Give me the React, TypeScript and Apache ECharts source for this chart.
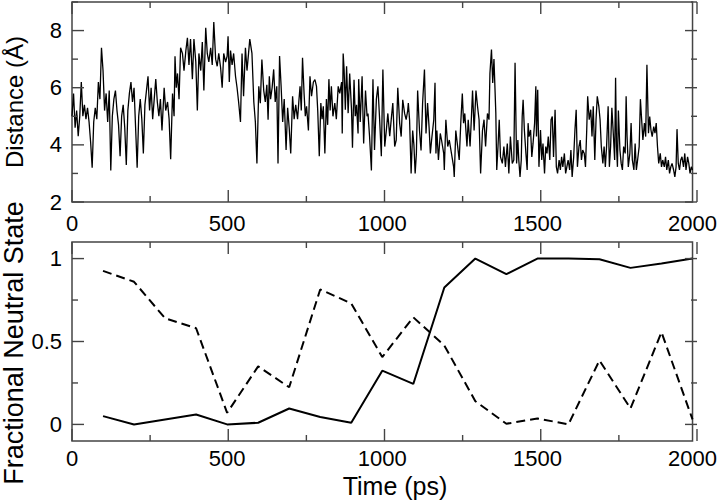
import React, { useEffect, useRef } from 'react';
import * as echarts from 'echarts';

// Distance trace (time in ps, distance in Å)
const distanceTrace: [number, number][] = [
  [0,5.0],[5,5.8],[10,4.6],[15,5.2],[20,4.3],[25,5.0],[30,6.2],[35,5.0],[40,5.4],[45,4.9],[50,5.3],[55,4.8],[60,4.1],[65,3.2],[70,4.8],[75,5.3],[80,4.9],[85,6.2],[90,5.6],[95,7.4],[100,6.6],[105,5.2],[110,5.8],[115,4.8],[120,5.9],[125,3.1],[130,5.0],[135,5.6],[140,5.9],[145,5.2],[150,4.7],[155,3.6],[160,5.0],[165,5.4],[170,4.6],[175,3.3],[180,5.2],[185,5.8],[190,6.2],[195,5.5],[200,6.0],[205,4.6],[210,3.2],[215,5.0],[220,5.6],[225,4.9],[230,3.7],[235,5.4],[240,5.9],[245,6.4],[250,5.2],[255,6.0],[260,4.9],[265,5.6],[270,6.3],[275,5.5],[280,5.0],[285,5.6],
  [290,4.5],[297,6.0],[302,5.2],[308,5.5],[313,4.9],[318,3.5],[324,5.8],[329,5.0],[332,7.1],[336,6.0],[340,6.5],[345,5.6],[350,7.4],[356,7.2],[361,6.6],[367,7.3],[372,7.75],[377,6.8],[382,7.7],[388,6.3],[393,7.7],[399,6.9],[404,5.2],[409,7.2],[415,6.6],[420,7.6],[425,5.9],[431,8.1],[436,7.2],[441,6.9],[447,7.4],[452,6.8],[457,8.3],[463,7.0],[468,6.75],[473,7.2],[479,6.7],[484,6.0],[489,7.2],[495,6.9],[500,7.1],[503,7.8],[507,6.2],[511,7.3],[516,6.8],[521,7.2],[527,6.4],[532,6.0],[537,5.5],[543,4.8],[548,7.2],[553,5.7],[559,7.4],[564,6.6],[569,7.2],
  [573,7.7],[580,7.2],[586,5.5],[591,4.8],[596,3.35],[602,6.05],[607,5.46],[612,6.99],[618,5.9],[623,5.5],[628,6.1],[632,4.88],[636,6.4],[640,5.6],[645,6.0],[650,6.64],[655,5.5],[660,6.05],[664,3.35],[669,7.11],[674,6.05],[679,4.8],[684,5.6],[690,3.82],[695,5.3],[700,4.6],[705,3.7],[711,5.7],[716,4.9],[721,5.4],[727,4.9],[731,5.5],[735,6.05],[739,5.2],[743,7.05],[748,5.8],[752,5.0],[756,5.35],[762,4.5],[767,6.4],[772,5.7],[778,6.2],[783,6.28],[788,6.05],[792,5.2],[797,3.6],[802,5.46],[806,4.9],[810,5.35],[815,3.7],[820,5.6],[824,4.7],[828,6.3],[832,5.2],[836,6.05],[841,5.0],[847,5.46],[852,4.9],[858,6.05],
  [863,5.8],[869,6.2],[871,4.4],[874,7.2],[877,6.64],[881,5.23],[885,6.75],[890,5.11],[895,6.5],[901,5.2],[904,3.9],[909,6.28],[913,5.0],[917,5.4],[922,4.4],[924,6.3],[929,4.8],[935,6.4],[940,4.05],[946,5.9],[951,5.0],[954,5.1],[959,4.3],[965,3.1],[970,6.3],[975,3.82],[981,5.6],[986,6.05],[991,5.0],[997,3.6],[1002,6.64],[1008,3.94],[1013,4.5],[1018,5.1],[1024,4.3],[1029,4.9],[1034,5.46],[1040,3.94],[1045,4.17],[1050,6.0],[1056,4.76],[1061,4.29],[1066,5.58],[1072,5.1],[1077,4.88],[1082,5.2],[1084,5.46],[1088,4.88],[1093,3.0],[1098,4.5],[1102,4.0],[1106,3.0],[1110,3.7],[1114,5.9],[1120,4.5],[1125,3.8],[1130,5.46],[1136,6.64],[1141,4.4],[1146,5.46],
  [1151,4.6],[1155,3.7],[1159,4.17],[1166,4.88],[1170,6.17],[1173,3.7],[1176,4.5],[1181,3.47],[1187,4.4],[1191,4.17],[1198,3.7],[1200,3.12],[1205,4.88],[1211,3.94],[1216,4.17],[1223,3.7],[1230,3.23],[1232,2.88],[1237,4.5],[1243,3.94],[1248,3.47],[1253,4.76],[1258,5.8],[1262,4.76],[1266,5.1],[1273,3.94],[1277,4.88],[1283,3.94],[1287,4.88],[1291,5.9],[1296,4.5],[1302,5.9],[1307,5.35],[1312,4.88],[1317,3.0],[1323,4.5],[1328,4.88],[1333,3.94],[1339,5.1],[1344,4.88],[1347,6.5],[1352,7.34],[1356,6.17],[1360,7.0],[1366,5.11],[1369,3.12],[1373,3.94],[1377,4.88],[1381,3.58],[1387,3.35],[1392,3.94],[1397,3.23],[1403,4.05],[1408,3.0],[1413,4.29],[1419,3.35],[1424,3.47],[1428,6.87],[1433,3.35],[1437,4.17],
  [1440,3.47],[1444,2.88],[1448,3.47],[1451,4.99],[1454,5.58],[1458,4.52],[1463,3.7],[1467,3.12],[1470,4.76],[1473,4.29],[1478,4.52],[1482,3.58],[1486,4.05],[1491,4.76],[1495,6.05],[1497,4.29],[1501,5.93],[1505,3.23],[1510,4.52],[1514,3.47],[1518,4.05],[1523,3.0],[1527,3.94],[1531,3.7],[1535,4.29],[1540,3.47],[1544,4.88],[1548,4.99],[1552,3.58],[1557,5.23],[1561,3.23],[1565,3.0],[1570,3.47],[1574,3.12],[1578,3.58],[1582,3.23],[1587,3.7],[1591,3.0],[1595,3.23],[1599,3.47],[1604,3.12],[1608,3.82],[1612,2.88],[1617,3.58],[1621,4.52],[1625,5.23],[1629,3.23],[1634,3.94],[1638,4.17],[1642,3.47],[1646,3.82],[1651,3.7],[1655,3.23],[1659,4.52],[1662,5.7],[1667,4.88],[1672,5.23],[1676,4.29],[1680,5.35],[1685,3.47],[1689,4.88],[1693,5.7],[1698,5.35],[1702,4.88],[1706,3.94],[1711,3.35],[1715,3.94],[1719,3.23],[1723,3.94],[1728,5.35],
  [1732,3.23],[1736,3.94],[1740,5.3],[1744,4.52],[1749,3.47],[1752,6.35],[1755,3.94],[1758,3.23],[1761,5.2],[1766,3.82],[1770,3.35],[1774,3.12],[1778,3.94],[1783,3.7],[1786,5.7],[1789,4.29],[1793,3.23],[1798,3.7],[1802,4.76],[1806,3.47],[1811,3.12],[1815,4.05],[1819,3.12],[1823,3.47],[1828,3.94],[1832,5.6],[1836,4.88],[1840,4.17],[1845,4.76],[1849,4.29],[1853,6.8],[1858,4.41],[1862,4.99],[1866,4.52],[1870,4.29],[1875,4.64],[1879,4.41],[1883,4.76],[1887,3.94],[1891,3.35],[1896,3.7],[1900,3.23],[1904,3.47],[1909,3.23],[1913,3.58],[1917,3.12],[1922,3.47],[1926,3.0],[1930,3.23],[1934,3.35],[1939,3.12],[1943,2.88],[1947,3.23],[1950,4.55],[1954,3.35],[1958,3.12],[1962,3.47],[1966,3.58],[1971,3.23],[1975,3.7],[1979,3.12],[1984,3.58],[1988,3.35],[1992,3.0],[1996,3.23],[2000,3.12]
];

// Fractional neutral state
const fracTime = [100,200,300,400,500,600,700,800,900,1000,1100,1200,1300,1400,1500,1600,1700,1800,1900,2000];
const solidFraction = [0.05,0.0,0.03,0.06,0.0,0.01,0.096,0.045,0.01,0.324,0.244,0.826,1.0,0.906,1.0,1.0,0.996,0.944,0.97,1.0];
const dashedFraction = [0.926,0.86,0.64,0.58,0.07,0.35,0.224,0.814,0.73,0.406,0.646,0.476,0.14,0.004,0.036,0.0,0.386,0.096,0.556,0.03];

// Ticks
const xTicks = [0, 500, 1000, 1500, 2000];
const xMinorTicks = [250, 750, 1250, 1750];
const distTicks = [2, 4, 6, 8];
const distMinorTicks = [3, 5, 7, 9];
const fracTicks = [0, 0.5, 1];
const fracMinorTicks = [0.25, 0.75];

const FONT = "'Liberation Sans', Arial, Helvetica, sans-serif";
const FRAME = '#444';
const MAJOR_LEN = 12;
const MINOR_LEN = 6;
const TICK_W = 1.4;
const X_MIN = 0;
const X_MAX = 2000;

const gridBoxes = [
  { left: 72, top: 2, width: 625, height: 200 },
  { left: 72, top: 242, width: 625, height: 199 },
];
const panels = [
  { yMin: 2, yMax: 9, yTicks: distTicks, yMinor: distMinorTicks },
  { yMin: -0.1, yMax: 1.1, yTicks: fracTicks, yMinor: fracMinorTicks },
];

function makeAxis(gridIndex: number, position: string, min: number, max: number, labels: number[], margin: number) {
  return {
    type: 'value',
    gridIndex,
    position,
    min,
    max,
    axisLine: { show: false, onZero: false },
    splitLine: { show: false },
    axisTick: { show: false },
    axisLabel: {
      show: true,
      customValues: labels,
      margin,
      fontSize: 22,
      fontFamily: FONT,
      color: '#000',
      formatter: (v: number) => String(v),
    },
  };
}

// Inward frame ticks on all four sides (axis decoration, as thin rects)
function frameTicks() {
  const out: any[] = [];
  const h = TICK_W / 2;
  const rect = (x: number, y: number, width: number, height: number) => ({
    type: 'rect',
    silent: true,
    z: 10,
    shape: { x, y, width, height },
    style: { fill: FRAME },
  });
  panels.forEach((p, g) => {
    const b = gridBoxes[g];
    const xPx = (v: number) => b.left + ((v - X_MIN) / (X_MAX - X_MIN)) * b.width;
    const yPx = (v: number) => b.top + ((p.yMax - v) / (p.yMax - p.yMin)) * b.height;
    const top = b.top;
    const bottom = b.top + b.height;
    const left = b.left;
    const right = b.left + b.width;
    const addX = (vals: number[], len: number) =>
      vals.forEach((v) => {
        const x = xPx(v);
        out.push(rect(x - h, bottom - len, TICK_W, len));
        out.push(rect(x - h, top, TICK_W, len));
      });
    const addY = (vals: number[], len: number) =>
      vals.forEach((v) => {
        const y = yPx(v);
        out.push(rect(left, y - h, len, TICK_W));
        out.push(rect(right - len, y - h, len, TICK_W));
      });
    addX(xTicks, MAJOR_LEN);
    addX(xMinorTicks, MINOR_LEN);
    addY(p.yTicks, MAJOR_LEN);
    addY(p.yMinor, MINOR_LEN);
  });
  return out;
}

export default function App() {
  const ref = useRef<HTMLDivElement>(null);
  useEffect(() => {
    if (!ref.current) return;
    const chart = echarts.init(ref.current, undefined, { renderer: 'svg' });
    const grids = gridBoxes.map((g) => ({ ...g, show: true, borderColor: FRAME, borderWidth: 1.5, containLabel: false }));

    chart.setOption({
      animation: false,
      backgroundColor: '#fff',
      grid: grids,
      xAxis: [
        makeAxis(0, 'bottom', X_MIN, X_MAX, xTicks, 10),
        makeAxis(1, 'bottom', X_MIN, X_MAX, xTicks, 6),
      ],
      yAxis: [
        makeAxis(0, 'left', panels[0].yMin, panels[0].yMax, distTicks, 10),
        makeAxis(1, 'left', panels[1].yMin, panels[1].yMax, fracTicks, 10),
      ],
      series: [
        {
          type: 'line',
          xAxisIndex: 0,
          yAxisIndex: 0,
          data: distanceTrace,
          symbol: 'none',
          lineStyle: { color: '#000', width: 1.3 },
        },
        {
          type: 'line',
          xAxisIndex: 1,
          yAxisIndex: 1,
          data: fracTime.map((t, i) => [t, solidFraction[i]]),
          symbol: 'none',
          lineStyle: { color: '#000', width: 2 },
        },
        {
          type: 'line',
          xAxisIndex: 1,
          yAxisIndex: 1,
          data: fracTime.map((t, i) => [t, dashedFraction[i]]),
          symbol: 'none',
          lineStyle: { color: '#000', width: 2, type: [9, 5] },
        },
      ],
      graphic: [
        {
          type: 'text',
          x: 14,
          y: 102,
          rotation: Math.PI / 2,
          style: { text: 'Distance (Å)', fontSize: 24, fontFamily: FONT, fill: '#000', align: 'center', verticalAlign: 'middle' },
        },
        {
          type: 'text',
          x: 14,
          y: 343,
          rotation: Math.PI / 2,
          style: { text: 'Fractional Neutral State', fontSize: 27, fontFamily: FONT, fill: '#000', align: 'center', verticalAlign: 'middle' },
        },
        {
          type: 'text',
          x: 395,
          y: 486,
          style: { text: 'Time (ps)', fontSize: 25, fontFamily: FONT, fill: '#000', align: 'center', verticalAlign: 'middle' },
        },
        ...frameTicks(),
      ],
    });
    return () => chart.dispose();
  }, []);
  return <div ref={ref} style={{ position: 'fixed', left: 0, top: 0, width: 720, height: 501 }} />;
}
